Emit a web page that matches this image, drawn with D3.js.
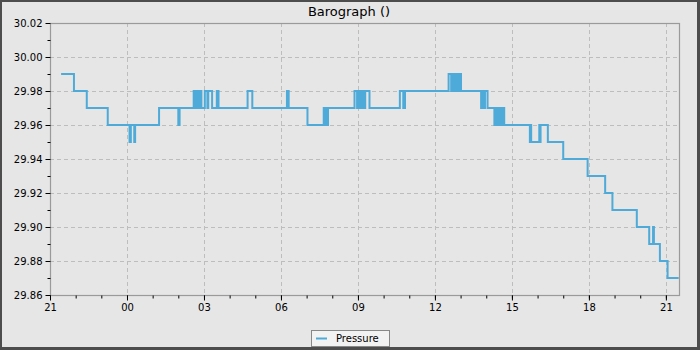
<!DOCTYPE html>
<html><head><meta charset="utf-8">
<script src="https://cdn.jsdelivr.net/npm/d3@7"></script>
<style>body{margin:0;padding:0;background:#fff}svg{display:block;font-family:"DejaVu Sans",sans-serif}</style>
</head><body><svg id="c" width="700" height="350"></svg>
<script>
const title = "Barograph ()";
const seriesName = "Pressure";
const times = ["21:26","21:56","22:26","23:15","00:06","00:09","00:17","00:19","01:15","02:00","02:03",
"02:36","02:38","02:39","02:42","02:43","02:46","02:47","02:50","02:51","02:54",
"03:02","03:08","03:10","03:19","03:30","03:34","04:42","04:53","06:14","06:18","07:02",
"07:40","07:43","07:45","07:47","07:50",
"08:52","08:58","09:02","09:04","09:05","09:08","09:10","09:12","09:14","09:16","09:17","09:27",
"10:38","10:46","10:50",
"12:32","12:38","12:39","12:42","12:43","12:46","12:47","12:50","12:51","12:55","12:57","13:01",
"13:48","13:52","13:56","13:57","14:03",
"14:19","14:23","14:25","14:26","14:29","14:30","14:33","14:34","14:38","14:39","14:42",
"15:42","15:43","15:45","16:04","16:05","16:07","16:24","17:00","17:57","18:38","18:55",
"19:52","20:21","20:30","20:32","20:46","21:04","21:30"];
const pressure = [29.99,29.98,29.97,29.96,29.95,29.96,29.95,29.96,29.97,29.96,29.97,
29.98,29.97,29.98,29.97,29.98,29.97,29.98,29.97,29.98,29.97,
29.98,29.97,29.98,29.97,29.98,29.97,29.98,29.97,29.98,29.97,29.96,
29.97,29.96,29.97,29.96,29.97,
29.98,29.97,29.98,29.97,29.98,29.97,29.98,29.97,29.98,29.97,29.98,29.97,
29.98,29.97,29.98,
29.99,29.98,29.99,29.98,29.99,29.98,29.99,29.98,29.99,29.98,29.99,29.98,
29.97,29.98,29.97,29.98,29.97,
29.96,29.97,29.96,29.97,29.96,29.97,29.96,29.97,29.96,29.97,29.96,
29.95,29.96,29.95,29.96,29.95,29.96,29.95,29.94,29.93,29.92,29.91,
29.90,29.89,29.90,29.89,29.88,29.87,29.87];
const xStart = "21:00", xEnd = "21:33";
const yTicks = [29.86,29.88,29.90,29.92,29.94,29.96,29.98,30.00,30.02];
const yMinor = [29.87,29.89,29.91,29.93,29.95,29.97,29.99,30.01];

function mk(hm, day){const [h,m]=hm.split(":").map(Number);return new Date(2024,0,1+day,h,m);}
let day=0, prev=-1;
const data = times.map((t,i)=>{const [h,m]=t.split(":").map(Number);const mins=h*60+m;if(prev>=0&&mins<prev)day++;prev=mins;return {t:mk(t,day),v:pressure[i]};});

const W=700,H=350, L=50,R=680,T=23,B=295;
const svg=d3.select("#c");
svg.append("rect").attr("width",W).attr("height",H).attr("fill","#4d4d4d");
svg.append("rect").attr("x",2).attr("y",2).attr("width",695).attr("height",345).attr("fill","#e6e6e6");

const x=d3.scaleTime().domain([mk(xStart,0),mk(xEnd,1)]).range([L,R]);
const y=d3.scaleLinear().domain([29.86,30.02]).range([B,T]);

const xMaj=d3.timeHour.every(3).range(mk("21:00",0),mk("21:01",1));
const xMin=d3.timeHour.every(1).range(mk("21:00",0),mk("21:01",1));

const g=svg.append("g");
g.selectAll(".gx").data(xMaj.filter(d=>x(d)>L+1&&x(d)<R-1)).join("line")
 .attr("x1",d=>Math.round(x(d))+0.5).attr("x2",d=>Math.round(x(d))+0.5).attr("y1",T).attr("y2",B)
 .attr("stroke","#bdbdbd").attr("stroke-dasharray","4,3");
g.selectAll(".gy").data(yTicks.filter(d=>y(d)>T+1&&y(d)<B-1)).join("line")
 .attr("y1",d=>Math.round(y(d))+0.5).attr("y2",d=>Math.round(y(d))+0.5).attr("x1",L).attr("x2",R)
 .attr("stroke","#bdbdbd").attr("stroke-dasharray","4,3");

const line=d3.line().x(d=>x(d.t)).y(d=>y(d.v)).curve(d3.curveStepAfter);
svg.append("path").datum(data).attr("d",line).attr("fill","none").attr("stroke","#4eaad8").attr("stroke-width",2);

svg.append("rect").attr("x",L+0.5).attr("y",T+0.5).attr("width",R-L-1).attr("height",B-T).attr("fill","none").attr("stroke","#9a9a9a").attr("stroke-width",1.2);

const ax=svg.append("g").attr("transform",`translate(0,${B+0.5})`)
 .call(d3.axisBottom(x).tickValues(xMaj).tickFormat(d3.timeFormat("%H")).tickSize(5).tickSizeOuter(0));
const axm=svg.append("g").attr("transform",`translate(0,${B+0.5})`)
 .call(d3.axisBottom(x).tickValues(xMin).tickFormat("").tickSize(3).tickSizeOuter(0));
const ay=svg.append("g").attr("transform",`translate(${L+0.5},0)`)
 .call(d3.axisLeft(y).tickValues(yTicks).tickFormat(d3.format(".2f")).tickSize(5).tickSizeOuter(0));
const aym=svg.append("g").attr("transform",`translate(${L+0.5},0)`)
 .call(d3.axisLeft(y).tickValues(yMinor).tickFormat("").tickSize(3).tickSizeOuter(0));
[ax,axm,ay,aym].forEach(a=>{a.select(".domain").remove();a.selectAll("line").attr("stroke","#000");
 a.selectAll("text").attr("fill","#000").style("font-family","DejaVu Sans").style("font-size","10px");});
ax.selectAll("text").attr("dy","0.95em").attr("y",6);
ay.selectAll("text").attr("x",-8);

svg.append("text").attr("x",349).attr("y",15.5).attr("text-anchor","middle").style("font-size","13px").attr("fill","#000").text(title);

const lg=svg.append("g");
lg.append("rect").attr("x",311.5).attr("y",330.5).attr("width",78).attr("height",16).attr("fill","#f2f2f2").attr("stroke","#888");
lg.append("line").attr("x1",316).attr("x2",327).attr("y1",338.5).attr("y2",338.5).attr("stroke","#4eaad8").attr("stroke-width",2);
lg.append("text").attr("x",336).attr("y",342).style("font-size","10px").attr("fill","#000").text(seriesName);
</script></body></html>
